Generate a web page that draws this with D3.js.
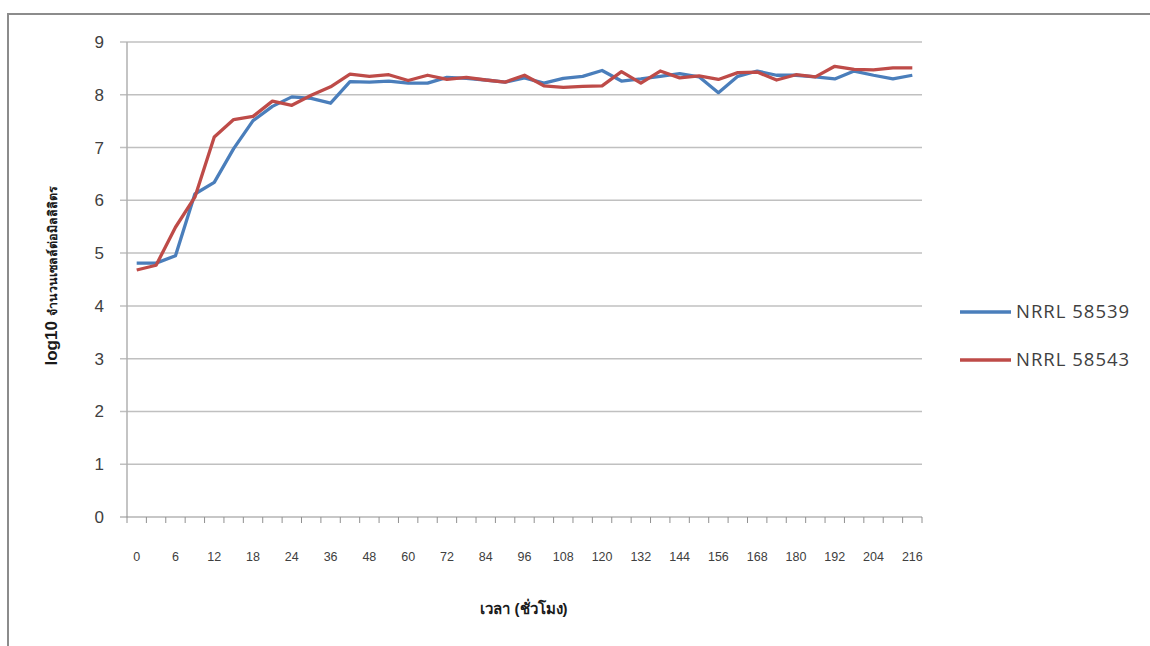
<!DOCTYPE html>
<html>
<head>
<meta charset="utf-8">
<script src="https://cdn.jsdelivr.net/npm/d3@7"></script>
<style>
  body { margin: 0; background: #fff; }
  svg { display: block; font-family: "Liberation Sans", Arial, sans-serif; }
</style>
</head>
<body>
<div id="chart"></div>
<script>
// time in hours (x categories)
var hours = [0, 3, 6, 9, 12, 15, 18, 21, 24, 30, 36, 42, 48, 54, 60, 66, 72, 78, 84, 90,
  96, 102, 108, 114, 120, 126, 132, 138, 144, 150, 156, 162, 168, 174, 180, 186, 192, 198, 204, 210, 216];

var nrrl58539 = [4.81, 4.81, 4.95, 6.12, 6.34, 6.98, 7.51, 7.78, 7.96, 7.93, 7.84, 8.25,
  8.24, 8.26, 8.22, 8.22, 8.33, 8.31, 8.28, 8.24, 8.32, 8.22, 8.31, 8.35, 8.46, 8.26,
  8.30, 8.35, 8.40, 8.34, 8.04, 8.35, 8.45, 8.37, 8.37, 8.34, 8.30, 8.45, 8.37, 8.30, 8.37];

var nrrl58543 = [4.68, 4.77, 5.49, 6.06, 7.20, 7.53, 7.59, 7.88, 7.80, 7.99, 8.15, 8.39,
  8.35, 8.38, 8.27, 8.37, 8.29, 8.33, 8.28, 8.24, 8.37, 8.17, 8.14, 8.16, 8.17, 8.44,
  8.22, 8.45, 8.32, 8.36, 8.29, 8.42, 8.43, 8.28, 8.38, 8.34, 8.54, 8.48, 8.47, 8.51, 8.51];

var xLabels = ["0", "6", "12", "18", "24", "36", "48", "60", "72", "84", "96", "108", "120",
  "132", "144", "156", "168", "180", "192", "204", "216"];
var yTicks = [0, 1, 2, 3, 4, 5, 6, 7, 8, 9];

var series = [
  { name: "NRRL 58539", values: nrrl58539, color: "#4a7ebb" },
  { name: "NRRL 58543", values: nrrl58543, color: "#be4b48" }
];

var width = 1150, height = 646;
var plot = { left: 127, right: 922, top: 42, bottom: 517 };

var svg = d3.select("#chart").append("svg")
  .attr("width", width).attr("height", height);

// outer chart border (cut off on the right and bottom)
svg.append("rect")
  .attr("x", 8).attr("y", 14)
  .attr("width", width + 20).attr("height", height + 20)
  .attr("fill", "#fff")
  .attr("stroke", "#8c8c8c").attr("stroke-width", 2);

var x = d3.scaleBand()
  .domain(hours.map(String))
  .range([plot.left, plot.right])
  .padding(0);

var y = d3.scaleLinear().domain([0, 9]).range([plot.bottom, plot.top]);

// gridlines + y labels
var yg = svg.append("g");
yTicks.forEach(function (t) {
  if (t > 0) {
    yg.append("line")
      .attr("x1", plot.left - 7).attr("x2", plot.right)
      .attr("y1", y(t)).attr("y2", y(t))
      .attr("stroke", "#c0c0c0").attr("stroke-width", 1.5);
  }
  yg.append("text")
    .attr("x", 104).attr("y", y(t))
    .attr("dy", "0.35em")
    .attr("text-anchor", "end")
    .attr("font-size", 17)
    .attr("fill", "#404040")
    .text(t);
});

// y axis line
svg.append("line")
  .attr("x1", plot.left).attr("x2", plot.left)
  .attr("y1", plot.top).attr("y2", plot.bottom)
  .attr("stroke", "#b0b0b0").attr("stroke-width", 1.5);

// x axis with ticks between categories
var xAxis = svg.append("g");
xAxis.append("line")
  .attr("x1", plot.left - 7).attr("x2", plot.right)
  .attr("y1", plot.bottom).attr("y2", plot.bottom)
  .attr("stroke", "#909090").attr("stroke-width", 1.2);
hours.forEach(function (h) {
  var xt = x(String(h));
  xAxis.append("line")
    .attr("x1", xt).attr("x2", xt)
    .attr("y1", plot.bottom).attr("y2", plot.bottom + 6)
    .attr("stroke", "#909090");
});
xAxis.append("line")
  .attr("x1", plot.right).attr("x2", plot.right)
  .attr("y1", plot.bottom).attr("y2", plot.bottom + 6)
  .attr("stroke", "#909090");

xLabels.forEach(function (l) {
  xAxis.append("text")
    .attr("x", x(l) + x.bandwidth() / 2)
    .attr("y", 561)
    .attr("text-anchor", "middle")
    .attr("font-size", 12.5)
    .attr("fill", "#404040")
    .text(l);
});

// lines
var line = d3.line()
  .x(function (d, i) { return x(String(hours[i])) + x.bandwidth() / 2; })
  .y(function (d) { return y(d); });

series.forEach(function (s) {
  svg.append("path")
    .datum(s.values)
    .attr("d", line)
    .attr("fill", "none")
    .attr("stroke", s.color)
    .attr("stroke-width", 3.3)
    .attr("stroke-linejoin", "round");
});

// axis titles
svg.append("text")
  .attr("transform", "translate(57,276) rotate(-90)")
  .attr("text-anchor", "middle")
  .attr("font-weight", "bold")
  .attr("fill", "#1a1a1a")
  .call(function (t) {
    t.append("tspan").attr("font-size", 17).text("log10 ");
    t.append("tspan").attr("font-size", 12.5).text("จำนวนเซลล์ต่อมิลลิลิตร");
  });

svg.append("text")
  .attr("x", 524).attr("y", 614)
  .attr("text-anchor", "middle")
  .attr("font-size", 15)
  .attr("font-weight", "bold")
  .attr("fill", "#1a1a1a")
  .text("เวลา (ชั่วโมง)");

// legend
var lg = svg.append("g");
series.forEach(function (s, i) {
  var ly = 312 + i * 48;
  lg.append("line")
    .attr("x1", 960).attr("x2", 1011)
    .attr("y1", ly).attr("y2", ly)
    .attr("stroke", s.color).attr("stroke-width", 3.3);
  lg.append("text")
    .attr("x", 1016).attr("y", ly)
    .attr("dy", "0.35em")
    .attr("font-family", "'Open Sans', 'Liberation Sans', sans-serif")
    .attr("font-size", 18.5)
    .attr("letter-spacing", 1)
    .attr("fill", "#404040")
    .text(s.name);
});
</script>
</body>
</html>
